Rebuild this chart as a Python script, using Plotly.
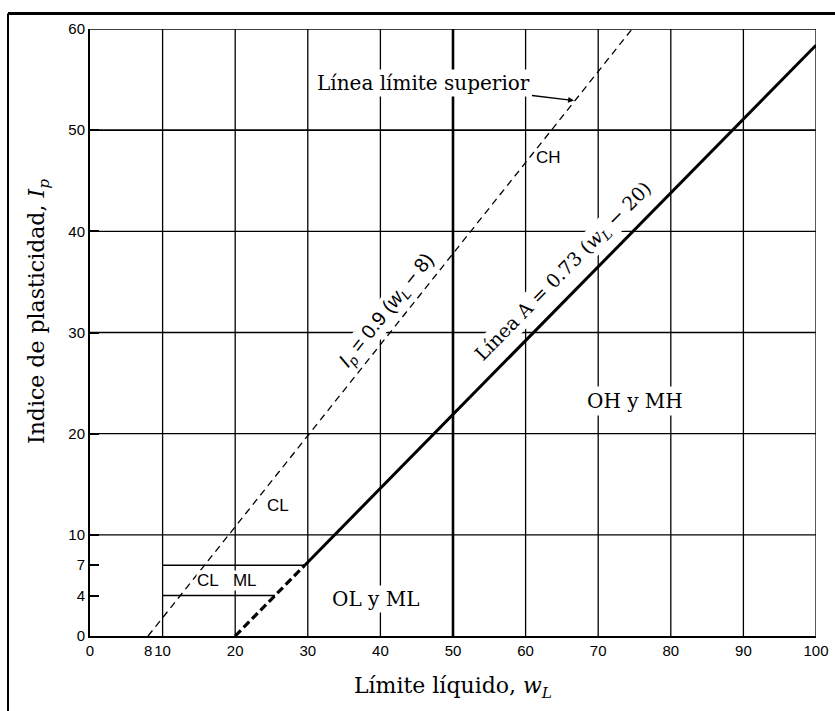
import plotly.graph_objects as go

# Plasticity chart: liquid limit w_L against plasticity index I_p
x_tick_vals = [0, 8, 10, 20, 30, 40, 50, 60, 70, 80, 90, 100]
x_tick_text = ["0", "8", "10", "20", "30", "40", "50", "60", "70", "80", "90", "100"]
y_tick_vals = [0, 4, 7, 10, 20, 30, 40, 50, 60]
y_tick_text = ["0", "4", "7", "10", "20", "30", "40", "50", "60"]
grid_x = [10, 20, 30, 40, 50, 60, 70, 80, 90, 100]
grid_y = [10, 20, 30, 40, 50, 60]

# A-line: I_p = 0.73 (w_L - 20)
a_slope, a_origin = 0.73, 20
# Upper limit line: I_p = 0.9 (w_L - 8)
u_slope, u_origin = 0.9, 8
# CL-ML band
band_low, band_high, band_left = 4, 7, 10
wl_max, ip_max = 100, 60


def a_line(w):
    return a_slope * (w - a_origin)


def u_line(w):
    return u_slope * (w - u_origin)


a_band_top = a_origin + band_high / a_slope
a_band_low = a_origin + band_low / a_slope
u_top = u_origin + ip_max / u_slope

fig = go.Figure()

# A-line, dashed below the CL-ML band, solid above
wa_dash = [a_origin, a_band_top]
fig.add_trace(go.Scatter(x=wa_dash, y=[a_line(w) for w in wa_dash], mode="lines",
                         line=dict(color="black", width=3.2, dash="8px,4px"),
                         hoverinfo="skip", showlegend=False))
wa_solid = [a_band_top, wl_max]
fig.add_trace(go.Scatter(x=wa_solid, y=[a_line(w) for w in wa_solid], mode="lines",
                         line=dict(color="black", width=3),
                         hoverinfo="skip", showlegend=False))

# Upper limit line
wu = [u_origin, u_top]
fig.add_trace(go.Scatter(x=wu, y=[u_line(w) for w in wu], mode="lines",
                         line=dict(color="black", width=1.3, dash="7px,5px"),
                         hoverinfo="skip", showlegend=False))

# CL-ML band limits
fig.add_trace(go.Scatter(x=[band_left, a_band_low], y=[band_low, band_low], mode="lines",
                         line=dict(color="black", width=1.6),
                         hoverinfo="skip", showlegend=False))
fig.add_trace(go.Scatter(x=[band_left, a_band_top], y=[band_high, band_high], mode="lines",
                         line=dict(color="black", width=1.6),
                         hoverinfo="skip", showlegend=False))

# grid
shapes = []
for gx in grid_x:
    shapes.append(dict(type="line", xref="x", yref="y", x0=gx, x1=gx, y0=0, y1=ip_max,
                       line=dict(color="black", width=2.6 if gx == 50 else 1.3), layer="below"))
for gy in grid_y:
    shapes.append(dict(type="line", xref="x", yref="y", x0=0, x1=wl_max, y0=gy, y1=gy,
                       line=dict(color="black", width=1.8 if gy == 50 else 1.3), layer="below"))

# page frame (top and left edges)
fx = (8 - 90) / 726
fy = (636 - 13.5) / 607
shapes.append(dict(type="line", xref="paper", yref="paper", x0=fx, x1=1.1, y0=fy, y1=fy,
                   line=dict(color="black", width=3)))
shapes.append(dict(type="line", xref="paper", yref="paper", x0=fx, x1=fx, y0=fy, y1=-0.2,
                   line=dict(color="black", width=2)))

serif = "DejaVu Serif"
sans = "Liberation Sans"

annotations = [
    dict(x=66.8, y=u_line(66.8), xref="x", yref="y", text="Línea límite superior",
         font=dict(family=serif, size=20, color="black"), bgcolor="white",
         showarrow=True, ax=46.0, ay=54.7, axref="x", ayref="y", arrowhead=2, arrowsize=0.9,
         arrowwidth=1.3, arrowcolor="black", standoff=1, borderpad=1),
    dict(x=63.1, y=47.3, xref="x", yref="y", text="CH", showarrow=False,
         font=dict(family=sans, size=17, color="black")),
    dict(x=25.9, y=12.9, xref="x", yref="y", text="CL", showarrow=False,
         font=dict(family=sans, size=17, color="black")),
    dict(x=18.9, y=5.45, xref="x", yref="y", text="CL\u00a0\u00a0\u00a0ML", showarrow=False,
         font=dict(family=sans, size=17, color="black"), bgcolor="white", borderpad=0),
    dict(x=39.3, y=3.7, xref="x", yref="y", text="OL y ML", showarrow=False,
         font=dict(family=serif, size=20, color="black"), bgcolor="white", borderpad=1),
    dict(x=75.1, y=23.2, xref="x", yref="y", text="OH y MH", showarrow=False,
         font=dict(family=serif, size=20, color="black"), bgcolor="white", borderpad=2),
    dict(x=65.3, y=36.0, xref="x", yref="y",
         text="Línea A = 0.73 (<i>w<sub>L</sub></i> − 20)", showarrow=False, textangle=-45.5,
         font=dict(family=serif, size=19, color="black"), bgcolor="white", borderpad=0),
    dict(x=40.9, y=32.2, xref="x", yref="y",
         text="<i>I<sub>p</sub></i> = 0.9 (<i>w<sub>L</sub></i> − 8)", showarrow=False, textangle=-51.5,
         font=dict(family=sans, size=20, color="black"), bgcolor="white", borderpad=0),
    # vertical axis title
    dict(x=(38 - 90) / 726, y=(636 - 312) / 607, xref="paper", yref="paper",
         xanchor="center", yanchor="middle",
         text="Indice de plasticidad, <i>I<sub>p</sub></i>", showarrow=False, textangle=-90,
         font=dict(family=serif, size=22, color="black")),
]

fig.update_layout(
    width=835, height=711,
    margin=dict(l=90, r=19, t=29, b=75),
    paper_bgcolor="white", plot_bgcolor="white",
    shapes=shapes, annotations=annotations,
    showlegend=False,
    xaxis=dict(range=[0, wl_max], tickvals=x_tick_vals, ticktext=x_tick_text, tickangle=0,
               automargin=False,
               showgrid=False, zeroline=False, showline=True, linecolor="black", linewidth=2,
               ticks="", tickfont=dict(family=sans, size=15, color="black"),
               title=dict(text="Límite líquido, <i>w<sub>L</sub></i>",
                          font=dict(family=serif, size=22, color="black"), standoff=20)),
    yaxis=dict(range=[0, ip_max], tickvals=y_tick_vals, ticktext=y_tick_text,
               automargin=False,
               showgrid=False, zeroline=False, showline=True, linecolor="black", linewidth=2,
               ticks="inside", ticklen=9, tickwidth=1.5, tickcolor="black",
               tickfont=dict(family=sans, size=15, color="black")),
)

fig.write_html("out.html")
